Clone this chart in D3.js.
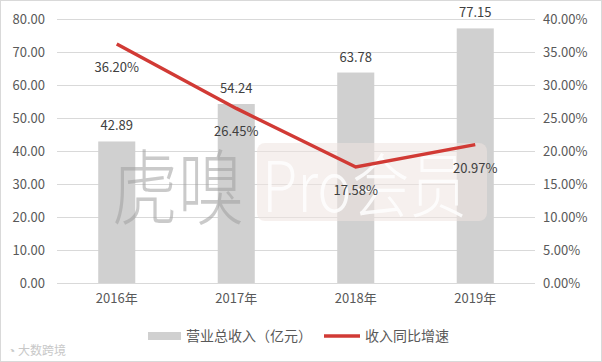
<!DOCTYPE html>
<html>
<head>
<meta charset="utf-8">
<script src="https://cdn.jsdelivr.net/npm/d3@7"></script>
<style>
  body { margin: 0; background: #fff; }
  text { font-family: "Noto Sans CJK SC", "Open Sans", sans-serif; }
</style>
</head>
<body>
<div id="chart"></div>
<script>
// data
let years = ["2016年", "2017年", "2018年", "2019年"];
let revenue = [42.89, 54.24, 63.78, 77.15];
let growth = [36.20, 26.45, 17.58, 20.97];
let leftTicks = [0, 10, 20, 30, 40, 50, 60, 70, 80];
let rightTicks = [0, 5, 10, 15, 20, 25, 30, 35, 40];
let legendNames = ["营业总收入（亿元）", "收入同比增速"];

let width = 602, height = 362;
let margin = {top: 19, right: 67, bottom: 79, left: 57};
let textColor = "#595959";

let svg = d3.select("#chart").append("svg")
  .attr("width", width)
  .attr("height", height);

// outer border
svg.append("rect")
  .attr("x", 0.5).attr("y", 0.5)
  .attr("width", width - 1).attr("height", height - 1)
  .attr("fill", "#fff").attr("stroke", "#d9d9d9");

let xScale = d3.scaleBand()
  .domain(years)
  .range([margin.left, width - margin.right])
  .paddingInner(0.69)
  .paddingOuter(0.345);

let yLeft = d3.scaleLinear()
  .domain([0, 80])
  .range([height - margin.bottom, margin.top]);

let yRight = d3.scaleLinear()
  .domain([0, 40])
  .range([height - margin.bottom, margin.top]);

// gridlines
svg.append("g")
  .selectAll("line")
  .data(leftTicks)
  .enter().append("line")
  .attr("x1", margin.left).attr("x2", width - margin.right)
  .attr("y1", d => Math.round(yLeft(d)) + 0.5)
  .attr("y2", d => Math.round(yLeft(d)) + 0.5)
  .attr("stroke", "#d9d9d9");

// left axis
let leftAxis = d3.axisLeft(yLeft)
  .tickValues(leftTicks)
  .tickFormat(d3.format(".2f"))
  .tickSize(0)
  .tickPadding(12);
let gl = svg.append("g")
  .attr("transform", "translate(" + margin.left + ",0)")
  .call(leftAxis);
gl.select(".domain").remove();
gl.selectAll("text").attr("fill", textColor).style("font-size", "13px");

// right axis
let rightAxis = d3.axisRight(yRight)
  .tickValues(rightTicks)
  .tickFormat(d => d3.format(".2f")(d) + "%")
  .tickSize(0)
  .tickPadding(8);
let gr = svg.append("g")
  .attr("transform", "translate(" + (width - margin.right) + ",0)")
  .call(rightAxis);
gr.select(".domain").remove();
gr.selectAll("text").attr("fill", textColor).style("font-size", "13px");

// bottom axis
let bottomAxis = d3.axisBottom(xScale).tickSize(0).tickPadding(11);
let gb = svg.append("g")
  .attr("transform", "translate(0," + (height - margin.bottom) + ")")
  .call(bottomAxis);
gb.select(".domain").remove();
gb.selectAll("text").attr("fill", textColor).style("font-size", "13px");

// bars
svg.append("g")
  .selectAll("rect")
  .data(revenue)
  .enter().append("rect")
  .attr("x", (d, i) => xScale(years[i]))
  .attr("y", d => yLeft(d))
  .attr("width", xScale.bandwidth())
  .attr("height", d => yLeft(0) - yLeft(d))
  .attr("fill", "#d0d0d0");

// watermark
let wm = svg.append("g").attr("pointer-events", "none");
wm.append("text")
  .attr("x", 112).attr("y", 218)
  .attr("textLength", 132)
  .attr("lengthAdjust", "spacingAndGlyphs")
  .style("font-size", "82px")
  .style("font-weight", 300)
  .attr("fill", "#a0a0a0")
  .attr("opacity", 0.55)
  .text("虎嗅");
wm.append("rect")
  .attr("x", 257).attr("y", 143)
  .attr("width", 230).attr("height", 78)
  .attr("rx", 8)
  .attr("fill", "#efe4e0")
  .attr("opacity", 0.55);
wm.append("text")
  .attr("x", 262).attr("y", 212)
  .attr("textLength", 205)
  .attr("lengthAdjust", "spacingAndGlyphs")
  .style("font-size", "70px")
  .style("font-weight", 200)
  .attr("fill", "#ffffff")
  .attr("opacity", 0.85)
  .text("Pro会员");

// bar labels
svg.append("g")
  .selectAll("text")
  .data(revenue)
  .enter().append("text")
  .attr("x", (d, i) => xScale(years[i]) + xScale.bandwidth() / 2)
  .attr("y", d => yLeft(d) - 11)
  .attr("text-anchor", "middle")
  .attr("fill", "#404040")
  .style("font-size", "13px")
  .text(d => d3.format(".2f")(d));

// growth line
let line = d3.line()
  .x((d, i) => xScale(years[i]) + xScale.bandwidth() / 2)
  .y(d => yRight(d));
svg.append("path")
  .datum(growth)
  .attr("d", line)
  .attr("fill", "none")
  .attr("stroke", "#d13a35")
  .attr("stroke-width", 3.5);

// line labels
svg.append("g")
  .selectAll("text")
  .data(growth)
  .enter().append("text")
  .attr("x", (d, i) => xScale(years[i]) + xScale.bandwidth() / 2)
  .attr("y", d => yRight(d) + 28)
  .attr("text-anchor", "middle")
  .attr("fill", "#404040")
  .style("font-size", "13px")
  .text(d => d3.format(".2f")(d) + "%");

// legend
let legend = svg.append("g");
legend.append("rect")
  .attr("x", 148).attr("y", 332)
  .attr("width", 33).attr("height", 8)
  .attr("fill", "#d0d0d0");
legend.append("text")
  .attr("x", 186).attr("y", 341)
  .attr("fill", textColor)
  .style("font-size", "14px")
  .text(legendNames[0]);
legend.append("line")
  .attr("x1", 324).attr("x2", 360)
  .attr("y1", 336).attr("y2", 336)
  .attr("stroke", "#d13a35")
  .attr("stroke-width", 3.5);
legend.append("text")
  .attr("x", 365).attr("y", 341)
  .attr("fill", textColor)
  .style("font-size", "14px")
  .text(legendNames[1]);

// small logo, bottom left
svg.append("text")
  .attr("x", 8).attr("y", 355)
  .attr("fill", "#c8c8c8")
  .style("font-size", "12px")
  .text("◔ 大数跨境");
</script>
</body>
</html>
